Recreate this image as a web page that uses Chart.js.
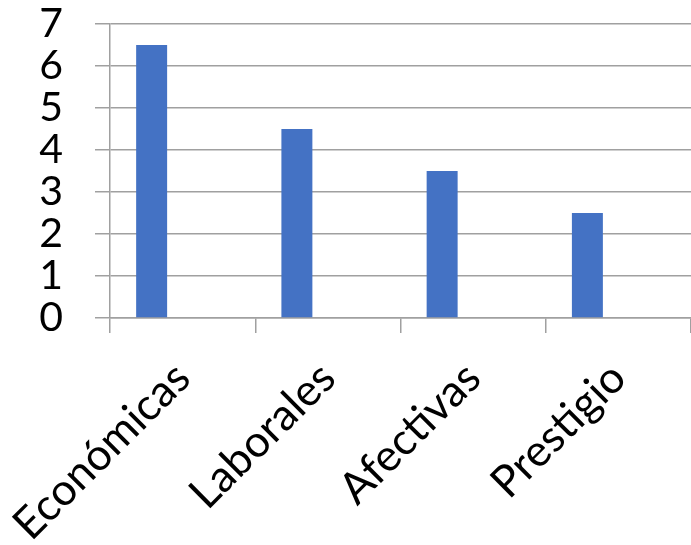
<!DOCTYPE html>
<html>
<head>
<meta charset="utf-8">
<script src="https://cdn.jsdelivr.net/npm/chart.js@4"></script>
<style>
  html, body { margin: 0; padding: 0; background: #ffffff; }
  canvas { display: block; }
</style>
</head>
<body>
<canvas id="chart" width="691" height="545"></canvas>
<script>
// chart data
const categories = ['Económicas', 'Laborales', 'Afectivas', 'Prestigio'];
const serie1 = [6.5, 4.5, 3.5, 2.5];
// empty series kept from the original spreadsheet (only leave the gaps)
const serie2 = [null, null, null, null];
const serie3 = [null, null, null, null];
const yTicks = [0, 1, 2, 3, 4, 5, 6, 7];

const gridColor = '#a0a0a0';
const family = 'Lato, "Liberation Sans", sans-serif';

const ctx = document.getElementById('chart').getContext('2d');

new Chart(ctx, {
  type: 'bar',
  data: {
    labels: categories,
    datasets: [
      { label: 'Serie 1', data: serie1, backgroundColor: '#4472C4' },
      { label: 'Serie 2', data: serie2, backgroundColor: '#ED7D31' },
      { label: 'Serie 3', data: serie3, backgroundColor: '#A5A5A5' },
    ],
  },
  options: {
    responsive: false,
    animation: false,
    layout: { padding: 0 },
    datasets: {
      bar: { categoryPercentage: 0.64, barPercentage: 1.0 },
    },
    plugins: {
      legend: { display: false },
      tooltip: { enabled: false },
    },
    scales: {
      x: {
        offset: true,
        grid: { offset: true, drawOnChartArea: false, tickLength: 15, color: gridColor, lineWidth: 1.5 },
        border: { color: gridColor, width: 1.5 },
        ticks: { color: '#000', font: { family: family, size: 44 }, minRotation: 45, maxRotation: 45, padding: 19 },
        afterFit: (scale) => {
          scale.height = 227;
          scale.paddingLeft = 0;
          scale.paddingRight = 0;
        },
      },
      y: {
        min: 0,
        max: yTicks[yTicks.length - 1],
        grid: { tickLength: 15, color: gridColor, lineWidth: 1.5 },
        border: { color: gridColor, width: 1.5 },
        ticks: {
          color: '#000',
          font: { family: family, size: 41, lineHeight: 1 },
          stepSize: 1,
          autoSkip: false,
          padding: 32,
          callback: (v) => (yTicks.includes(v) ? v : ''),
        },
        afterFit: (scale) => {
          scale.width = 110;
          scale.paddingTop = 24;
          scale.paddingBottom = 0;
        },
      },
    },
  },
});
</script>
</body>
</html>
